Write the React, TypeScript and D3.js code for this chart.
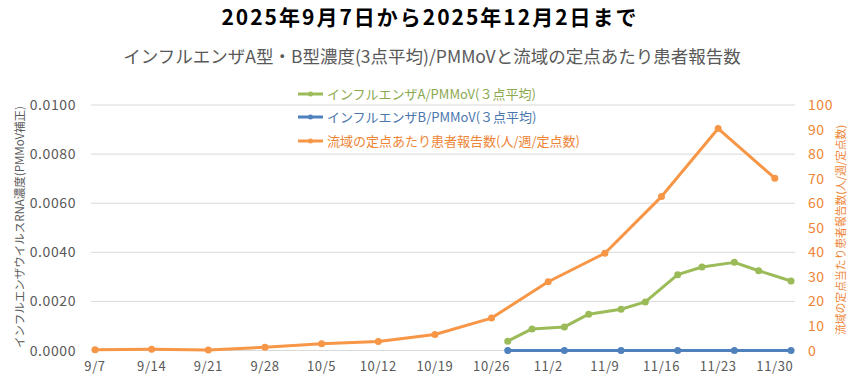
import React from "react";
import * as d3 from "d3";

const W = 858;
const H = 390;

const tickDates = ["2025-09-07","2025-09-14","2025-09-21","2025-09-28","2025-10-05","2025-10-12","2025-10-19","2025-10-26","2025-11-02","2025-11-09","2025-11-16","2025-11-23","2025-11-30"];
const tickLabels = ["9/7","9/14","9/21","9/28","10/5","10/12","10/19","10/26","11/2","11/9","11/16","11/23","11/30"];

const fluADates = ["2025-10-28","2025-10-31","2025-11-04","2025-11-07","2025-11-11","2025-11-14","2025-11-18","2025-11-21","2025-11-25","2025-11-28","2025-12-02"];
const fluAValues = [0.00038,0.00088,0.00096,0.00148,0.00168,0.00198,0.00309,0.0034,0.00359,0.00325,0.00283];

const fluBDates = ["2025-10-28","2025-11-04","2025-11-11","2025-11-18","2025-11-25","2025-12-02"];
const fluBValues = [0,0,0,0,0,0];

const patientDates = tickDates;
const patientValues = [0.3,0.5,0.2,1.3,2.7,3.7,6.5,13.2,28.0,39.6,62.7,90.4,70.2];

const leftTicks = [0,0.002,0.004,0.006,0.008,0.01];
const rightTicks = [0,10,20,30,40,50,60,70,80,90,100];

const legendLabels = ["インフルエンザA/PMMoV(３点平均)","インフルエンザB/PMMoV(３点平均)","流域の定点あたり患者報告数(人/週/定点数)"];

const GREEN = "#9BBB59";
const BLUE = "#4F81BD";
const ORANGE = "#F79646";
const ORANGE_TXT = "#EE8435";
const GRAY = "#595959";
const FONT = "'Noto Sans CJK JP', 'Noto Sans', sans-serif";

const parse = (s: string) => new Date(s + "T00:00:00Z");

export default function App() {
  const x = d3.scaleUtc().domain([parse("2025-09-07"), parse("2025-12-02")]).range([95, 791]);
  const yL = d3.scaleLinear().domain([0, 0.01]).range([350.5, 105]);
  const yR = d3.scaleLinear().domain([0, 100]).range([350.5, 105]);

  const lineL = d3.line<[string, number]>().x(d => x(parse(d[0]))).y(d => yL(d[1]));
  const lineR = d3.line<[string, number]>().x(d => x(parse(d[0]))).y(d => yR(d[1]));

  const aData = fluADates.map((d, i) => [d, fluAValues[i]] as [string, number]);
  const bData = fluBDates.map((d, i) => [d, fluBValues[i]] as [string, number]);
  const pData = patientDates.map((d, i) => [d, patientValues[i]] as [string, number]);

  const series = [
    { data: pData, line: lineR, y: yR, color: ORANGE },
    { data: aData, line: lineL, y: yL, color: GREEN },
    { data: bData, line: lineL, y: yL, color: BLUE },
  ];

  const legendColors = [GREEN, BLUE, ORANGE];
  const legendText = ["#8AA84E", "#4A76AE", ORANGE_TXT];
  const legendY = [94, 117, 141];

  return (
    <svg width={W} height={H} style={{ position: "absolute", left: 0, top: 0, fontFamily: FONT }}>
      <rect width={W} height={H} fill="#fff" />
      <text x={430} y={25} textAnchor="middle" fontSize={21} fontWeight="bold" fill="#000" letterSpacing={2}>2025年9月7日から2025年12月2日まで</text>
      <text x={432} y={63} textAnchor="middle" fontSize={17.5} fill={GRAY}>インフルエンザA型・B型濃度(3点平均)/PMMoVと流域の定点あたり患者報告数</text>

      {leftTicks.map((t, i) => (
        <g key={i}>
          <line x1={91} x2={795} y1={yL(t)} y2={yL(t)} stroke="#D9D9D9" strokeWidth={1} />
          <text x={76} y={yL(t) + 5} textAnchor="end" fontSize={14} letterSpacing={0.6} fill={GRAY}>{t.toFixed(4)}</text>
        </g>
      ))}
      {rightTicks.map((t, i) => (
        <text key={i} x={808} y={yR(t) + 5} textAnchor="start" fontSize={14} letterSpacing={0.6} fill={ORANGE_TXT}>{t}</text>
      ))}
      {tickDates.map((d, i) => (
        <text key={i} x={x(parse(d))} y={371} textAnchor="middle" fontSize={13} letterSpacing={0.6} fill={GRAY}>{tickLabels[i]}</text>
      ))}

      <text transform={`translate(24,227) rotate(-90)`} textAnchor="middle" fontSize={11.5} fill={GRAY}>インフルエンザウイルスRNA濃度(PMMoV補正)</text>
      <text transform={`translate(845,230) rotate(-90)`} textAnchor="middle" fontSize={10.8} fill={ORANGE_TXT}>流域の定点当たり患者報告数(人/週/定点数)</text>

      {series.map((s, i) => (
        <g key={i}>
          <path d={s.line(s.data) || ""} fill="none" stroke={s.color} strokeWidth={3} strokeLinejoin="round" />
          {s.data.map((d, j) => (
            <circle key={j} cx={x(parse(d[0]))} cy={s.y(d[1])} r={3.5} fill={s.color} />
          ))}
        </g>
      ))}

      {legendLabels.map((l, i) => (
        <g key={i}>
          <line x1={298} x2={323} y1={legendY[i]} y2={legendY[i]} stroke={legendColors[i]} strokeWidth={3} />
          <circle cx={310.5} cy={legendY[i]} r={2.5} fill={legendColors[i]} />
          <text x={327} y={legendY[i] + 5} fontSize={13} fill={legendText[i]}>{l}</text>
        </g>
      ))}
    </svg>
  );
}
